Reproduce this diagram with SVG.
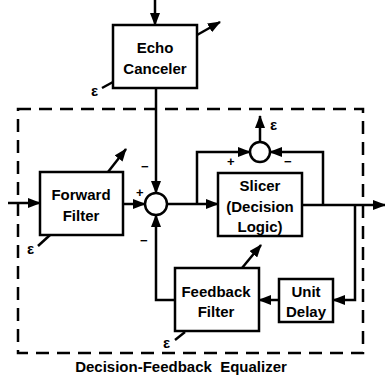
<svg xmlns="http://www.w3.org/2000/svg" width="385" height="383" viewBox="0 0 385 383">
<style>
.box{fill:#fff;stroke:#000;stroke-width:2.5}
.ln{fill:none;stroke:#000;stroke-width:2.5}
.ar{fill:none;stroke:#000;stroke-width:2.5;marker-end:url(#ah)}
.sum{fill:#fff;stroke:#000;stroke-width:2.5}
.t{font-family:"Liberation Sans",Arial,sans-serif;font-weight:bold;font-size:15px;text-anchor:middle;fill:#000}
.e{font-family:"Liberation Sans",Arial,sans-serif;font-weight:bold;font-size:15px;fill:#000}
.s{font-family:"Liberation Sans",Arial,sans-serif;font-weight:bold;font-size:13px;fill:#000}
.dash{fill:none;stroke:#000;stroke-width:2.5;stroke-dasharray:13 8}
</style>
<defs>
<marker id="ah" markerUnits="userSpaceOnUse" markerWidth="13" markerHeight="10" refX="12" refY="5" orient="auto">
<path d="M0,0 L13,5 L0,10 z" fill="#000"/>
</marker>
</defs>
<rect width="385" height="383" fill="#fff"/>
<g id="dfe-boundary">
<rect class="dash" x="18" y="109" width="345" height="244"/>
<text class="t" x="181" y="372" font-size="14" xml:space="preserve">Decision-Feedback  Equalizer</text>
</g>
<g id="connectors">
<line class="ar" x1="155" y1="0" x2="155" y2="25"/>
<line class="ar" x1="197" y1="35" x2="220" y2="22"/>
<line class="ln" x1="102" y1="88" x2="113" y2="82"/>
<line class="ar" x1="156" y1="88" x2="156" y2="193"/>
<line class="ar" x1="8" y1="203" x2="40" y2="203"/>
<line class="ar" x1="108" y1="172" x2="126" y2="149"/>
<line class="ln" x1="38" y1="246" x2="50" y2="235"/>
<line class="ar" x1="123" y1="204" x2="145" y2="204"/>
<line class="ar" x1="167" y1="204" x2="218" y2="204"/>
<polyline class="ar" points="197,204 197,152 250,152"/>
<polyline class="ar" points="323,205 323,152 270,152"/>
<line class="ar" x1="260" y1="142" x2="260" y2="116"/>
<line class="ar" x1="302" y1="205" x2="385" y2="205"/>
<polyline class="ar" points="355,205 355,300 333,300"/>
<line class="ar" x1="279" y1="300" x2="259" y2="300"/>
<polyline class="ar" points="175,300 156,300 156,215"/>
<line class="ar" x1="242" y1="268" x2="261" y2="245"/>
<line class="ln" x1="175" y1="340" x2="185" y2="332"/>
</g>
<g id="echo-canceler">
<rect class="box" x="113" y="25" width="84" height="63"/>
<text class="t" x="155" y="53">Echo</text>
<text class="t" x="155" y="74">Canceler</text>
<text class="e" x="91" y="96">ε</text>
</g>
<g id="forward-filter">
<rect class="box" x="40" y="172" width="83" height="63"/>
<text class="t" x="81" y="200">Forward</text>
<text class="t" x="81" y="221">Filter</text>
<text class="e" x="27" y="254">ε</text>
</g>
<g id="summer">
<circle class="sum" cx="156" cy="204" r="11"/>
<text class="s" x="136" y="197">+</text>
<text class="s" x="141" y="171">−</text>
<text class="s" x="140" y="245">−</text>
</g>
<g id="slicer">
<rect class="box" x="218" y="173" width="84" height="63"/>
<text class="t" x="260" y="191">Slicer</text>
<text class="t" x="260" y="212">(Decision</text>
<text class="t" x="260" y="232">Logic)</text>
</g>
<g id="error-summer">
<circle class="sum" cx="260" cy="152" r="10"/>
<text class="s" x="227" y="166">+</text>
<text class="s" x="284" y="166">−</text>
<text class="e" x="270" y="130">ε</text>
</g>
<g id="feedback-filter">
<rect class="box" x="175" y="268" width="84" height="63"/>
<text class="t" x="216" y="297">Feedback</text>
<text class="t" x="216" y="317">Filter</text>
<text class="e" x="163" y="348">ε</text>
</g>
<g id="unit-delay">
<rect class="box" x="279" y="279" width="54" height="43"/>
<text class="t" x="306" y="297">Unit</text>
<text class="t" x="306" y="317">Delay</text>
</g>
</svg>
